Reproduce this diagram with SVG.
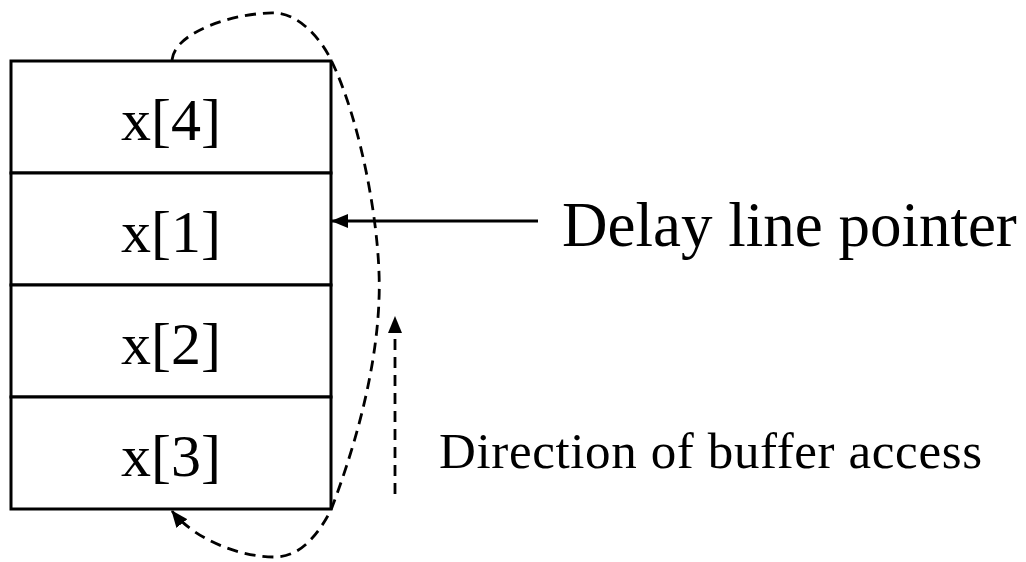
<svg xmlns="http://www.w3.org/2000/svg" width="1026" height="562" viewBox="0 0 1026 562">
<style>
.cell{fill:#fff;stroke:#000;stroke-width:3}
.lbl{font-family:"Liberation Serif","Times New Roman",serif;fill:#000}
.solid{fill:none;stroke:#000;stroke-width:3}
.dash{fill:none;stroke:#000;stroke-width:2.8;stroke-dasharray:11 7}
</style>
<defs>
<marker id="ah" markerUnits="userSpaceOnUse" markerWidth="17" markerHeight="14" viewBox="0 0 17 14" refX="16" refY="7" orient="auto">
<path d="M0,0 L17,7 L0,14 z" fill="#000" stroke="none"/>
</marker>
</defs>
<rect width="1026" height="562" fill="#fff"/>
<g id="cell4"><rect class="cell" x="11" y="61" width="320" height="112"/><text class="lbl" x="171" y="140" font-size="60" text-anchor="middle">x[4]</text></g>
<g id="cell1"><rect class="cell" x="11" y="173" width="320" height="112"/><text class="lbl" x="171" y="252" font-size="60" text-anchor="middle">x[1]</text></g>
<g id="cell2"><rect class="cell" x="11" y="285" width="320" height="112"/><text class="lbl" x="171" y="364" font-size="60" text-anchor="middle">x[2]</text></g>
<g id="cell3"><rect class="cell" x="11" y="397" width="320" height="112"/><text class="lbl" x="171" y="476" font-size="60" text-anchor="middle">x[3]</text></g>
<g id="pointer-label"><text class="lbl" x="562" y="246" font-size="63">Delay line pointer</text></g>
<g id="direction-label"><text class="lbl" x="439" y="468" font-size="51" textLength="543" lengthAdjust="spacing">Direction of buffer access</text></g>
<g id="connectors">
<line class="solid" x1="538" y1="221" x2="332" y2="221" marker-end="url(#ah)"/>
<line class="dash" x1="395" y1="494" x2="395" y2="317" marker-end="url(#ah)"/>
<path class="dash" d="M172,60 C175,30 240,12 275,13 C300,14 322,40 332,62 C360,120 382,230 379,300 C376,380 350,460 331,510 C318,535 300,557 275,557 C240,557 195,540 172,511" marker-end="url(#ah)"/>
</g>
</svg>
